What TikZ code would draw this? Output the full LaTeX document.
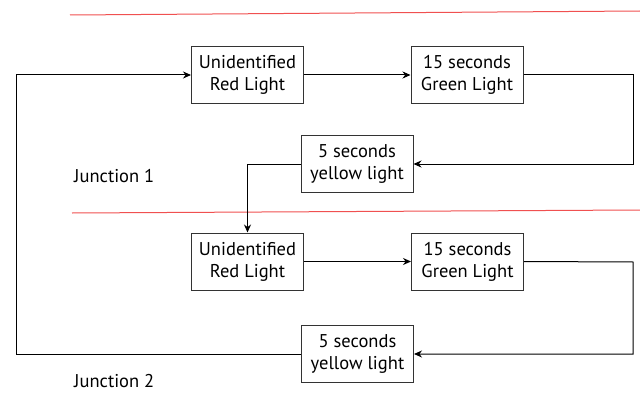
\documentclass[tikz,border=0pt]{standalone}
\usepackage{fontspec}
\setmainfont{PT Sans}
\usetikzlibrary{arrows.meta}
\definecolor{divider}{RGB}{240,80,80}
\begin{document}
\begin{tikzpicture}[x=1pt,y=-1pt,
  stage/.style={draw=black!80, line width=1pt, minimum width=112pt, minimum height=57pt,
    align=center, inner sep=0pt, font=\fontsize{18.5}{22}\selectfont},
  flow/.style={line width=1pt, -{Stealth[length=8pt,width=7pt]}},
  tag/.style={anchor=west, inner sep=0pt, font=\fontsize{18.5}{22}\selectfont},
  sep/.style={draw=divider, line width=1pt}]
\useasboundingbox (0,0) rectangle (640,404);

% dividers between the two junctions
\coordinate (d1a) at (70,15);
\coordinate (d1b) at (640,11);
\coordinate (d2a) at (72,213);
\coordinate (d2b) at (640,210);
\draw[sep] (d1a) -- (d1b);
\draw[sep] (d2a) -- (d2b);

% junction 1
\node[stage] (r1) at (247.5,75) {Unidentified\\Red Light};
\node[stage] (g1) at (467,75) {15 seconds\\Green Light};
\node[stage] (y1) at (357,164) {5 seconds\\yellow light};
\node[tag] (j1) at (74,176) {Junction 1};

% junction 2
\node[stage] (r2) at (247.5,261.5) {Unidentified\\Red Light};
\node[stage] (g2) at (467.5,261.5) {15 seconds\\Green Light};
\node[stage] (y2) at (357.5,354) {5 seconds\\yellow light};
\node[tag] (j2) at (74,381) {Junction 2};

% routing corners
\coordinate (c1) at (633,75);
\coordinate (c2) at (633,262);
\coordinate (c3) at (16,354);
\coordinate (c4) at (16,75);

% cycle
\draw[flow] (r1) -- (g1);
\draw[flow] (g1.east) -- (c1) |- (y1.east);
\draw[flow] (y1.west) -| (r2.north);
\draw[flow] (r2) -- (g2);
\draw[flow] (g2.east) -- (c2) |- (y2.east);
\draw[flow] (y2.west) -- (c3) -- (c4) -- (r1.west);
\end{tikzpicture}
\end{document}
